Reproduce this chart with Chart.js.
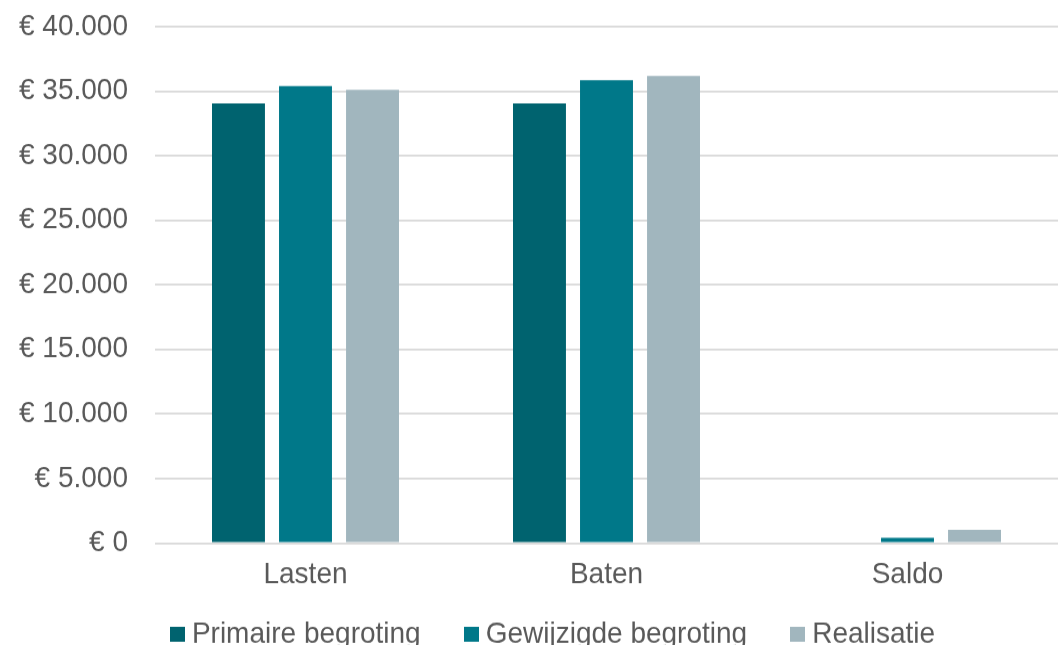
<!DOCTYPE html>
<html>
<head>
<meta charset="utf-8">
<script src="https://cdn.jsdelivr.net/npm/chart.js@4"></script>
<style>
  html, body { margin: 0; padding: 0; background: #fff; overflow: hidden; width: 1058px; height: 645px; }
  /* the chart is drawn slightly flatter and stretched back to full height */
  #bar-chart { display: block; transform: scaleY(1.066); transform-origin: 0 0; }
</style>
</head>
<body>
<canvas id="bar-chart" width="1058" height="657"></canvas>
<script>
var categories = ['Lasten', 'Baten', 'Saldo'];
var seriesNames = ['Primaire begroting', 'Gewijzigde begroting', 'Realisatie'];
var primaire = [34060, 34060, 0];
var gewijzigd = [35400, 35850, 400];
var realisatie = [35100, 36180, 1030];
var yTicks = [0, 5000, 10000, 15000, 20000, 25000, 30000, 35000, 40000];
var colors = ['#00636F', '#007889', '#A1B6BE'];

var textColor = '#595959';
var font = { family: "'Liberation Sans', Arial, sans-serif", size: 28 };

function euro(v) {
  var s = String(Math.round(v)).replace(/\B(?=(\d{3})+(?!\d))/g, '.');
  return '€ ' + s;
}

// small square swatches for the legend, so the text can sit close to them
var swatches = colors.map(function (c) {
  var cv = document.createElement('canvas');
  cv.width = 15;
  cv.height = 14;
  var g = cv.getContext('2d');
  g.fillStyle = c;
  g.fillRect(0, 0, 15, 14);
  return cv;
});

// nudge the legend a little after layout
var legendShift = {
  id: 'legendShift',
  afterLayout: function (chart) {
    var l = chart.legend;
    l.left += 27; l.right += 27;
    l.top -= 38; l.bottom -= 38;
  }
};

var ctx = document.querySelector('#bar-chart').getContext('2d');

var chart = new Chart(ctx, {
  type: 'bar',
  data: {
    labels: categories,
    datasets: [
      { label: seriesNames[0], data: primaire, backgroundColor: colors[0] },
      { label: seriesNames[1], data: gewijzigd, backgroundColor: colors[1] },
      { label: seriesNames[2], data: realisatie, backgroundColor: colors[2] }
    ]
  },
  plugins: [legendShift],
  options: {
    responsive: false,
    animation: false,
    categoryPercentage: 0.668,
    barPercentage: 0.79,
    layout: { padding: { left: 0, right: 0, top: 25, bottom: 0 } },
    plugins: {
      legend: {
        position: 'bottom',
        labels: {
          color: textColor,
          font: font,
          usePointStyle: true,
          boxWidth: 1,
          boxHeight: 14,
          padding: 50,
          generateLabels: function (chart) {
            var items = Chart.defaults.plugins.legend.labels.generateLabels(chart);
            items.forEach(function (it, i) { it.pointStyle = swatches[i]; });
            return items;
          }
        }
      },
      tooltip: { enabled: false }
    },
    scales: {
      x: {
        grid: { display: false, drawTicks: false },
        border: { display: false },
        ticks: { color: textColor, font: font, padding: 13 }
      },
      y: {
        min: 0,
        max: 40000,
        afterBuildTicks: function (axis) {
          axis.ticks = yTicks.map(function (v) { return { value: v }; });
        },
        afterFit: function (axis) {
          axis.width = 155;
          axis.paddingTop = 0;
          axis.paddingBottom = 0;
        },
        grid: { color: '#D9D9D9', lineWidth: 1.8, drawTicks: false },
        border: { display: false },
        ticks: {
          color: textColor,
          font: font,
          padding: 27,
          callback: function (v) { return euro(v); }
        }
      }
    }
  }
});
</script>
</body>
</html>
